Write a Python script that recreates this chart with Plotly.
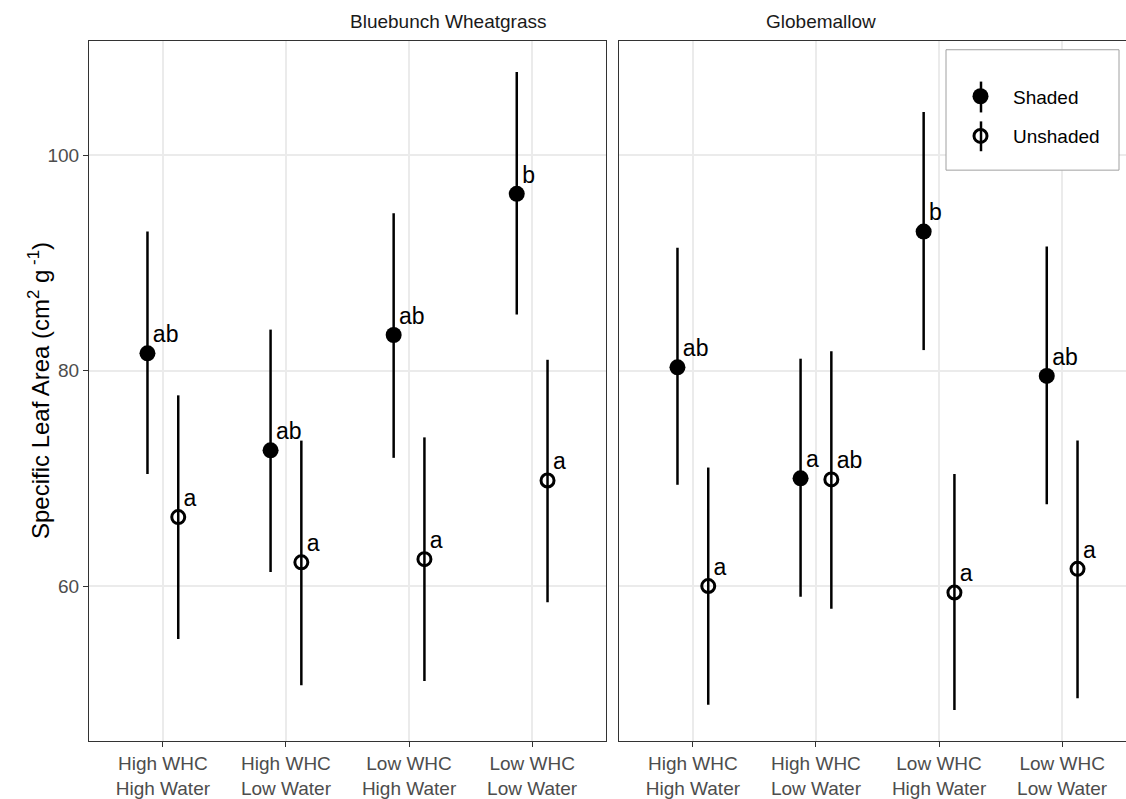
import plotly.graph_objects as go

# ---------------- data ----------------
categories = ["High WHC<br>High Water", "High WHC<br>Low Water",
              "Low WHC<br>High Water", "Low WHC<br>Low Water"]
species = ["Bluebunch Wheatgrass", "Globemallow"]
treatments = ["Shaded", "Unshaded"]

# Bluebunch Wheatgrass
bw_shaded_mean = [81.6, 72.6, 83.3, 96.4]
bw_shaded_lo = [70.4, 61.3, 71.9, 85.2]
bw_shaded_hi = [92.9, 83.8, 94.6, 107.7]
bw_shaded_letters = ["ab", "ab", "ab", "b"]

bw_unshaded_mean = [66.4, 62.2, 62.5, 69.8]
bw_unshaded_lo = [55.1, 50.8, 51.2, 58.5]
bw_unshaded_hi = [77.7, 73.5, 73.8, 81.0]
bw_unshaded_letters = ["a", "a", "a", "a"]

# Globemallow
gm_shaded_mean = [80.3, 70.0, 92.9, 79.5]
gm_shaded_lo = [69.4, 59.0, 81.9, 67.6]
gm_shaded_hi = [91.4, 81.1, 104.0, 91.5]
gm_shaded_letters = ["ab", "a", "b", "ab"]

gm_unshaded_mean = [60.0, 69.9, 59.4, 61.6]
gm_unshaded_lo = [49.0, 57.9, 48.5, 49.6]
gm_unshaded_hi = [71.0, 81.8, 70.4, 73.5]
gm_unshaded_letters = ["a", "ab", "a", "a"]

y_ticks = [60, 80, 100]

# ---------------- styling ----------------
FONT = "Liberation Sans, Arial, Helvetica, sans-serif"
W, H = 1126, 799
dodge = 0.125

fig = go.Figure()

panels = [
    ("x", "y", bw_shaded_mean, bw_shaded_lo, bw_shaded_hi, bw_shaded_letters,
     bw_unshaded_mean, bw_unshaded_lo, bw_unshaded_hi, bw_unshaded_letters),
    ("x2", "y2", gm_shaded_mean, gm_shaded_lo, gm_shaded_hi, gm_shaded_letters,
     gm_unshaded_mean, gm_unshaded_lo, gm_unshaded_hi, gm_unshaded_letters),
]

for pi, (xa, ya, sm, slo, shi, slet, um, ulo, uhi, ulet) in enumerate(panels):
    pos = list(range(1, len(categories) + 1))
    for tname, mean, lo, hi, letters, off in [
        ("Shaded", sm, slo, shi, slet, -dodge),
        ("Unshaded", um, ulo, uhi, ulet, dodge),
    ]:
        xs = [p + off for p in pos]
        filled = tname == "Shaded"
        fig.add_trace(go.Scatter(
            x=xs, y=mean, mode="markers", name=tname,
            xaxis=xa, yaxis=ya,
            legendgroup=tname, showlegend=(pi == 1),
            marker=dict(
                symbol="circle" if filled else "circle-open",
                size=16 if filled else 13,
                color="black",
                line=dict(width=0 if filled else 3, color="black"),
            ),
            error_y=dict(
                type="data", symmetric=False,
                array=[h - m for h, m in zip(hi, mean)],
                arrayminus=[m - l for m, l in zip(mean, lo)],
                width=0, thickness=2.5, color="black",
            ),
            hoverinfo="skip",
        ))
        fig.add_trace(go.Scatter(
            x=xs, y=mean, mode="markers+text", text=letters,
            textposition="top right",
            textfont=dict(family=FONT, size=23, color="black"),
            marker=dict(size=7, opacity=0),
            xaxis=xa, yaxis=ya, showlegend=False, hoverinfo="skip",
        ))

x1_dom = [89 / W, 606 / W]
x2_dom = [619 / W, 1.0]
y_dom = [1 - 745 / H, 1 - 41 / H]
px_per_unit = (606 - 89) / 4.2
x2_end = 4.6 - (619 + 4.2 * px_per_unit - W) / px_per_unit

axis_common = dict(
    showline=True, linecolor="#333333", linewidth=1.2,
    showgrid=True, gridcolor="#EBEBEB", gridwidth=1.6,
    zeroline=False, ticks="outside", ticklen=5, tickcolor="#333333", tickwidth=1.2,
    tickfont=dict(family=FONT, size=19, color="#4D4D4D"),
)
tickvals = list(range(1, len(categories) + 1))

# legend frame and error-bar key glyphs (paper pixel positions)
legend_box = dict(x0=946, x1=1119, y0=50, y1=171)
key_x = 981
key_spans = [(82, 113), (122, 152)]

shapes = [dict(type="rect", xref="paper", yref="paper",
               x0=legend_box["x0"] / W, x1=legend_box["x1"] / W,
               y0=1 - legend_box["y1"] / H, y1=1 - legend_box["y0"] / H,
               line=dict(color="#A0A0A0", width=1), fillcolor="white", layer="above")]
for a, b in key_spans:
    shapes.append(dict(type="line", xref="paper", yref="paper",
                       x0=key_x / W, x1=key_x / W, y0=1 - b / H, y1=1 - a / H,
                       line=dict(color="black", width=2.5), layer="above"))

fig.update_layout(
    width=W, height=H, autosize=False,
    margin=dict(l=0, r=0, t=0, b=0),
    paper_bgcolor="white", plot_bgcolor="white",
    font=dict(family=FONT),
    xaxis=dict(domain=x1_dom, range=[0.4, 4.6], anchor="y", mirror=True,
               tickvals=tickvals, ticktext=categories, **axis_common),
    yaxis=dict(domain=y_dom, range=[45.6, 110.6], anchor="x", mirror=True,
               tickvals=y_ticks, **axis_common),
    xaxis2=dict(domain=x2_dom, range=[0.4, x2_end], anchor="y2", mirror=True,
                tickvals=tickvals, ticktext=categories, **axis_common),
    yaxis2=dict(domain=y_dom, range=[45.6, 110.6], anchor="x2", matches="y",
                tickvals=y_ticks, **{**axis_common, "ticks": "", "showticklabels": False}),
    legend=dict(
        x=948 / W, y=1 - ((82 + 152) / 2) / H, xanchor="left", yanchor="middle",
        bgcolor="rgba(0,0,0,0)", borderwidth=0,
        font=dict(family=FONT, size=19, color="black"),
        traceorder="grouped", tracegroupgap=12, itemwidth=55,
    ),
    shapes=shapes,
    annotations=[
        dict(text=species[0], x=(x1_dom[0] + x1_dom[1]) / 2, y=1 - 22 / H,
             xref="paper", yref="paper", showarrow=False, yanchor="middle",
             font=dict(family=FONT, size=19, color="#1A1A1A")),
        dict(text=species[1], x=(619 / W + (619 + 4.2 * px_per_unit) / W) / 2, y=1 - 22 / H,
             xref="paper", yref="paper", showarrow=False, yanchor="middle",
             font=dict(family=FONT, size=19, color="#1A1A1A")),
        dict(text="Specific Leaf Area (cm<sup>2</sup> g<sup> -1</sup>)",
             x=22 / W, y=(y_dom[0] + y_dom[1]) / 2, xref="paper", yref="paper",
             textangle=-90, showarrow=False,
             font=dict(family=FONT, size=24, color="black")),
    ],
)

fig.write_html("out.html")
